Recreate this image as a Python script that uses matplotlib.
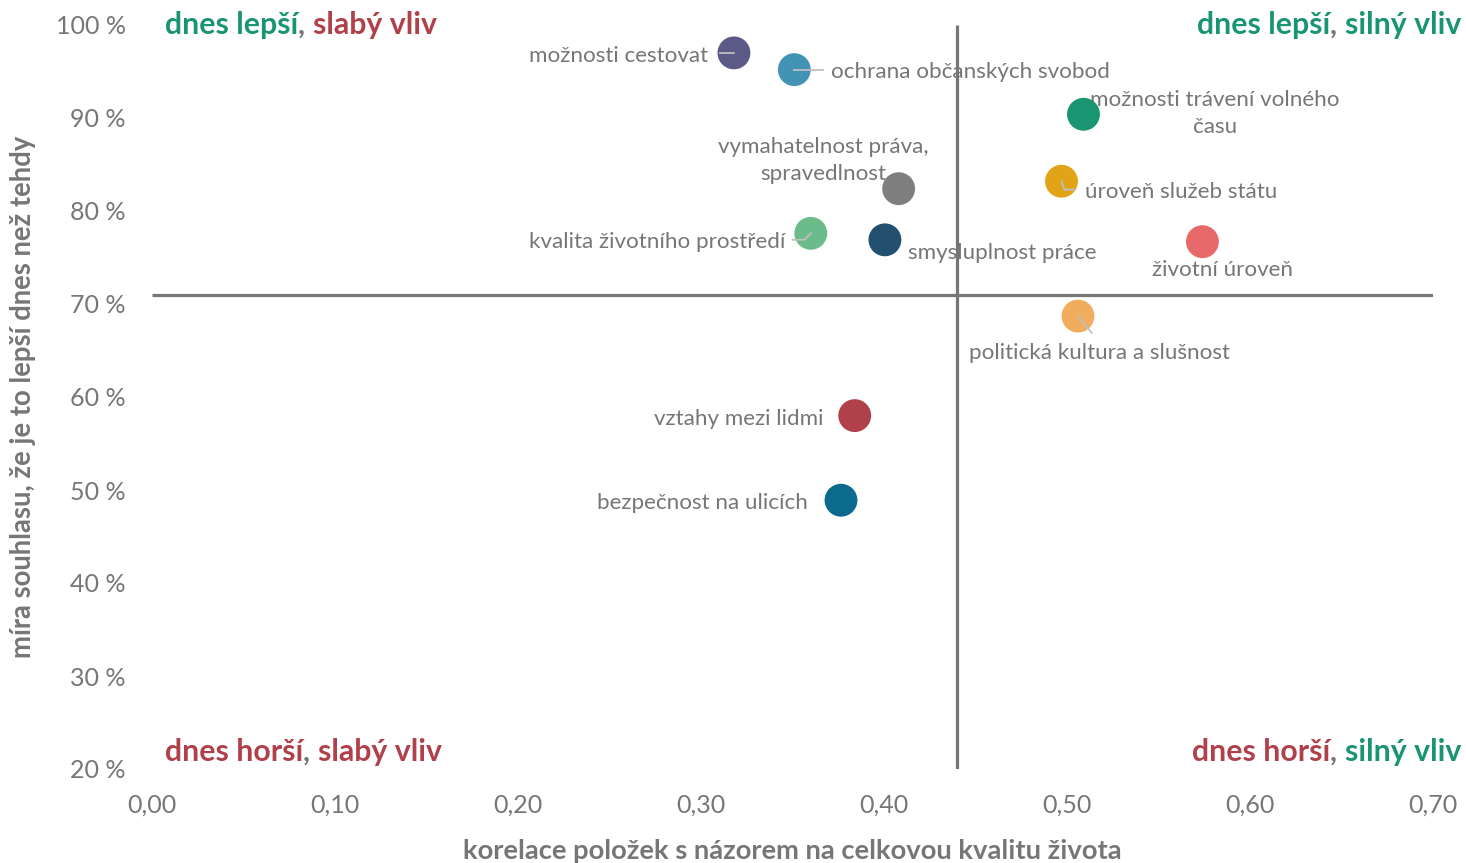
import matplotlib
matplotlib.use("Agg")
import matplotlib.pyplot as plt

plt.rcParams['font.family'] = ['Lato', 'DejaVu Sans']

# ---- data ----
labels = ["možnosti cestovat", "ochrana občanských svobod", "možnosti trávení volného\nčasu",
          "vymahatelnost práva,\nspravedlnost", "úroveň služeb státu", "kvalita životního prostředí",
          "smysluplnost práce", "životní úroveň", "politická kultura a slušnost",
          "vztahy mezi lidmi", "bezpečnost na ulicích"]
corr = [0.318, 0.351, 0.509, 0.408, 0.497, 0.360, 0.4005, 0.574, 0.506, 0.384, 0.3765]
agree = [97.0, 95.2, 90.4, 82.4, 83.2, 77.6, 76.9, 76.7, 68.7, 58.0, 48.9]
colors = ["#5B5A87", "#4393B5", "#1A9571", "#7F7F7F", "#E0A416", "#6BBB8B",
          "#23506E", "#E8696A", "#F0AD5E", "#B0414A", "#0B6A8E"]

x_ticks = [0.0, 0.1, 0.2, 0.3, 0.4, 0.5, 0.6, 0.7]
x_tick_labels = ["0,00", "0,10", "0,20", "0,30", "0,40", "0,50", "0,60", "0,70"]
y_ticks = [20, 30, 40, 50, 60, 70, 80, 90, 100]
y_tick_labels = ["20 %", "30 %", "40 %", "50 %", "60 %", "70 %", "80 %", "90 %", "100 %"]

x_mid = 0.44
y_mid = 71.0

# label placement (x, y, ha)
label_pos = [(0.3038, 96.68, 'right'), (0.371, 94.96, 'left'), (0.581, 90.45, 'center'),
             (0.367, 85.4, 'center'), (0.5098, 82.06, 'left'), (0.346, 76.68, 'right'),
             (0.413, 75.5, 'left'), (0.5847, 73.67, 'center'), (0.518, 64.75, 'center'),
             (0.3667, 57.65, 'right'), (0.3585, 48.6, 'right')]
# leader line end points (index -> list of (x,y))
leaders = {0: [(0.318, 97.0), (0.3104, 97.0)],
           1: [(0.351, 95.2), (0.3665, 95.2)],
           4: [(0.497, 83.2), (0.4985, 82.3), (0.5045, 82.3)],
           5: [(0.360, 77.6), (0.3565, 76.9), (0.350, 76.9)],
           8: [(0.506, 68.7), (0.5135, 66.9)]}

GRAY = "#767676"
GREEN = "#1A9571"
RED = "#B0414A"

W, H = 1466, 863
fig = plt.figure(figsize=(W / 100, H / 100), dpi=100)
ax = fig.add_axes([152 / W, 1 - 769 / H, (1433 - 152) / W, (769 - 25) / H])
ax.set_xlim(0, 0.7)
ax.set_ylim(20, 100)
for s in ax.spines.values():
    s.set_visible(False)
ax.set_xticks(x_ticks)
ax.set_xticklabels(x_tick_labels)
ax.set_yticks(y_ticks)
ax.set_yticklabels(y_tick_labels)
ax.tick_params(axis='both', length=0, labelsize=18, labelcolor=GRAY)
ax.tick_params(axis='y', pad=19)
ax.tick_params(axis='x', pad=18)

ax.plot([x_mid, x_mid], [20, 100], color=GRAY, lw=2.3, zorder=1, solid_capstyle='butt')
ax.plot([0, 0.7], [y_mid, y_mid], color=GRAY, lw=2.3, zorder=1, solid_capstyle='butt')

ax.scatter(corr, agree, s=560, c=colors, edgecolors='none', zorder=3)

for i, pts in leaders.items():
    xs = [p[0] for p in pts]
    ys = [p[1] for p in pts]
    ax.plot(xs, ys, color="#BFBFBF", lw=1.3, zorder=4)

for lab, (lx, ly, ha) in zip(labels, label_pos):
    ax.text(lx, ly, lab, ha=ha, va='center', fontsize=16.1, color=GRAY,
            linespacing=1.45, zorder=2)

ax.set_xlabel("korelace položek s názorem na celkovou kvalitu života", fontsize=19.7,
              fontweight='bold', color=GRAY, labelpad=16)
ax.set_ylabel("míra souhlasu, že je to lepší dnes než tehdy", fontsize=19.8,
              fontweight='bold', color=GRAY, labelpad=14)

# quadrant labels (multi-coloured)
fig.canvas.draw()
renderer = fig.canvas.get_renderer()


def multi_text(x_px, y_px, parts, align='left'):
    if align == 'left':
        cur = x_px
        for txt, col in parts:
            t = fig.text(cur / W, 1 - y_px / H, txt, color=col, fontsize=21.8,
                         fontweight='bold', ha='left', va='center')
            bb = t.get_window_extent(renderer)
            cur = bb.x1
    else:
        cur = x_px
        for txt, col in reversed(parts):
            t = fig.text(cur / W, 1 - y_px / H, txt, color=col, fontsize=21.8,
                         fontweight='bold', ha='right', va='center')
            bb = t.get_window_extent(renderer)
            cur = bb.x0


multi_text(165, 25, [("dnes lepší", GREEN), (", ", GRAY), ("slabý vliv", RED)], 'left')
multi_text(1461, 25, [("dnes lepší", GREEN), (", ", GRAY), ("silný vliv", GREEN)], 'right')
multi_text(165, 752, [("dnes horší", RED), (", ", GRAY), ("slabý vliv", RED)], 'left')
multi_text(1461, 752, [("dnes horší", RED), (", ", GRAY), ("silný vliv", GREEN)], 'right')

fig.savefig("out.png", dpi=100)
